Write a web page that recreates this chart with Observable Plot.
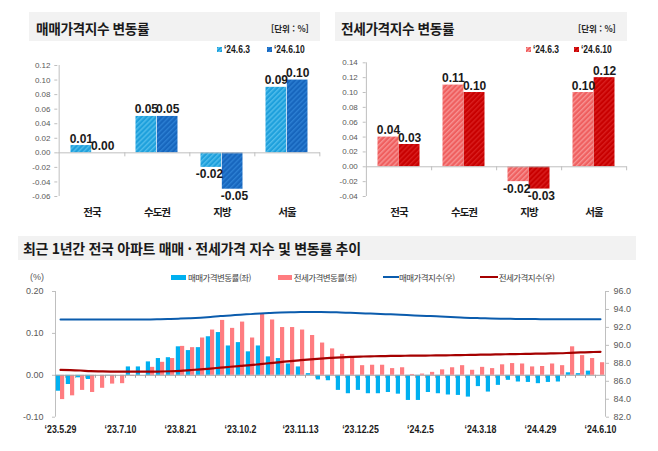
<!DOCTYPE html>
<html lang="ko">
<head>
<meta charset="utf-8">
<title>아파트 매매·전세가격 변동률</title>
<script src="https://cdn.jsdelivr.net/npm/d3@7"></script>
<script src="https://cdn.jsdelivr.net/npm/@observablehq/plot@0.6"></script>
<style>
  html, body { margin: 0; padding: 0; background: #fff; }
  #page { position: relative; width: 658px; height: 451px; overflow: hidden; background: #fff;
          font-family: "Noto Sans CJK KR", "Noto Sans", sans-serif; color: #262626; }
  #page > * { position: absolute; }
  .band { background: #f2f2f2; }
  .title { font-weight: 700; font-size: 13.7px; line-height: 16px; letter-spacing: -0.4px; white-space: nowrap; color: #1a1a1a; }
  .title.wide { font-size: 14px; letter-spacing: -0.3px; }
  .unit { font-weight: 700; font-size: 8.5px; line-height: 10px; white-space: nowrap; color: #262626; }
  .key { font-family: "Liberation Sans", Arial, sans-serif; font-weight: 700; font-size: 10px; line-height: 10px;
         white-space: nowrap; color: #1a1a1a; transform: scaleX(0.85); transform-origin: left center; }
  .sw { width: 5px; height: 5px; }
  .lg { font-size: 8.5px; line-height: 10px; letter-spacing: -0.55px; color: #404040; white-space: nowrap; }
  .pct { font-family: "Liberation Sans", Arial, sans-serif; font-size: 9px; line-height: 10px; color: #595959; }
  .region g[aria-label="x-axis tick label"] text { letter-spacing: -1px; }
</style>
</head>
<body>
<div id="page"></div>
<script>
// ---- weekly change by region (%) ----
const regions = ["전국", "수도권", "지방", "서울"];
const periods = ["‘24.6.3", "‘24.6.10"];
const saleChangePrev     = [0.01, 0.05, -0.02, 0.09];
const saleChangeLatest   = [0.00, 0.05, -0.05, 0.10];
const jeonseChangePrev   = [0.04, 0.11, -0.02, 0.10];
const jeonseChangeLatest = [0.03, 0.10, -0.03, 0.12];
const saleTicks   = [-0.06, -0.04, -0.02, 0, 0.02, 0.04, 0.06, 0.08, 0.10, 0.12];
const jeonseTicks = [-0.04, -0.02, 0, 0.02, 0.04, 0.06, 0.08, 0.10, 0.12, 0.14];

// ---- national apartments, last 12 months (weekly) ----
const weeks = [
  "23.5.29", "23.6.5", "23.6.12", "23.6.19", "23.6.26", "23.7.3", "23.7.10", "23.7.17", "23.7.24", "23.7.31",
  "23.8.7", "23.8.14", "23.8.21", "23.8.28", "23.9.4", "23.9.11", "23.9.18", "23.9.25", "23.10.2", "23.10.9",
  "23.10.16", "23.10.23", "23.10.30", "23.11.6", "23.11.13", "23.11.20", "23.11.27", "23.12.4", "23.12.11", "23.12.18",
  "23.12.25", "24.1.1", "24.1.8", "24.1.15", "24.1.22", "24.1.29", "24.2.5", "24.2.12", "24.2.19", "24.2.26",
  "24.3.4", "24.3.11", "24.3.18", "24.3.25", "24.4.1", "24.4.8", "24.4.15", "24.4.22", "24.4.29", "24.5.6",
  "24.5.13", "24.5.20", "24.5.27", "24.6.3", "24.6.10"
];
const weekTicks = ["23.5.29", "23.7.10", "23.8.21", "23.10.2", "23.11.13", "23.12.25", "24.2.5", "24.3.18", "24.4.29", "24.6.10"];
const saleWeekly = [
  -0.038, -0.022, -0.006, -0.010, 0.000, -0.001, 0.000, 0.020, 0.020, 0.032,
  0.040, 0.042, 0.068, 0.059, 0.066, 0.092, 0.102, 0.070, 0.078, 0.056,
  0.070, 0.044, 0.040, 0.027, 0.020, 0.004, -0.011, -0.013, -0.036, -0.044,
  -0.036, -0.044, -0.044, -0.041, -0.045, -0.060, -0.060, -0.041, -0.044, -0.047,
  -0.048, -0.052, -0.027, -0.040, -0.024, -0.012, -0.016, -0.017, -0.020, -0.017,
  -0.016, 0.006, 0.004, 0.010, 0.000
];
const jeonseWeekly = [
  -0.058, -0.049, -0.036, -0.041, -0.031, -0.021, -0.020, -0.002, 0.000, 0.019,
  0.031, 0.040, 0.069, 0.066, 0.089, 0.108, 0.131, 0.112, 0.127, 0.089,
  0.147, 0.132, 0.114, 0.114, 0.108, 0.095, 0.077, 0.063, 0.050, 0.043,
  0.023, 0.024, 0.024, 0.016, 0.018, 0.002, 0.003, 0.007, 0.013, 0.018,
  0.023, 0.012, 0.019, 0.016, 0.025, 0.028, 0.027, 0.020, 0.021, 0.027,
  0.023, 0.068, 0.047, 0.040, 0.030
];
const saleIndex = [
  92.88, 92.88, 92.88, 92.88, 92.88, 92.88, 92.88, 92.88, 92.88, 92.89,
  92.91, 92.94, 92.98, 93.03, 93.09, 93.17, 93.27, 93.34, 93.42, 93.48,
  93.55, 93.60, 93.65, 93.68, 93.71, 93.72, 93.72, 93.70, 93.66, 93.62,
  93.58, 93.54, 93.50, 93.46, 93.42, 93.36, 93.30, 93.26, 93.21, 93.16,
  93.11, 93.06, 93.03, 92.99, 92.97, 92.96, 92.94, 92.93, 92.92, 92.91,
  92.90, 92.90, 92.90, 92.91, 92.91
];
const jeonseIndex = [
  87.27, 87.25, 87.20, 87.13, 87.10, 87.08, 87.08, 87.08, 87.08, 87.08,
  87.09, 87.12, 87.17, 87.25, 87.33, 87.42, 87.52, 87.62, 87.71, 87.80,
  87.92, 88.03, 88.14, 88.25, 88.35, 88.45, 88.53, 88.60, 88.66, 88.71,
  88.75, 88.78, 88.80, 88.82, 88.84, 88.85, 88.86, 88.87, 88.88, 88.90,
  88.92, 88.94, 88.96, 88.98, 89.00, 89.02, 89.04, 89.06, 89.08, 89.10,
  89.12, 89.17, 89.21, 89.25, 89.28
];
const pctTicks = [-0.10, 0.00, 0.10, 0.20];
const indexTicks = [82, 84, 86, 88, 90, 92, 94, 96];

// ---- shared styles ----
const GRID = "#bfbfbf";
const TICK_TEXT = "#595959";
const NUM_FONT = '"Liberation Sans", Arial, sans-serif';
const AXIS_FONT = '"Liberation Sans", Arial, sans-serif';
const KR_FONT = '"Noto Sans CJK KR", "Noto Sans", sans-serif';
const SALE_BAR = "#00b0f0", JEONSE_BAR = "#ff7c80";
const SALE_LINE = "#0b5cad", JEONSE_LINE = "#a50000";
const PLOT_STYLE = "background: transparent; overflow: visible; max-width: none;";

const page = document.getElementById("page");
function addDiv(cls, x, y, text, css = {}) {
  const el = document.createElement("div");
  el.className = cls;
  el.style.left = x + "px";
  el.style.top = y + "px";
  if (text != null) el.textContent = text;
  Object.assign(el.style, css);
  page.appendChild(el);
  return el;
}
function addPlot(svg, x, y, cls) {
  svg.style.position = "absolute";
  svg.style.left = x + "px";
  svg.style.top = y + "px";
  if (cls) svg.classList.add(cls);
  page.appendChild(svg);
}
function addPattern(svg, id, base, stripe) {
  d3.select(svg).insert("defs", ":first-child").html(
    `<pattern id="${id}" patternUnits="userSpaceOnUse" width="3.6" height="3.6" patternTransform="rotate(45)">` +
    `<rect width="3.6" height="3.6" fill="${base}"/><rect width="1.4" height="3.6" fill="${stripe}"/></pattern>`);
}
// condensed figures: squeeze each label to a fraction of its natural width (svg must be in the page)
function condense(svg, label, k) {
  d3.select(svg).selectAll(`g[aria-label="${label}"] text`).each(function() {
    const w = this.getComputedTextLength();
    if (w > 0) {
      this.setAttribute("textLength", (w * k).toFixed(2));
      this.setAttribute("lengthAdjust", "spacingAndGlyphs");
    }
  });
}
const hatchCss = (base, stripe) => ({background: `repeating-linear-gradient(135deg, ${base} 0 1.4px, ${stripe} 1.4px 2.6px)`});

// ---- header bands ----
addDiv("band", 29, 12, null, {width: "291px", height: "29px"});
addDiv("band", 335, 12, null, {width: "292px", height: "29px"});
addDiv("band", 18, 236, null, {width: "618px", height: "24px"});
addDiv("title", 36, 19.5, "매매가격지수 변동률");
addDiv("title", 341, 19.5, "전세가격지수 변동률");
addDiv("unit", 271, 23.3, "[단위 : %]");
addDiv("unit", 578, 23.3, "[단위 : %]");
addDiv("title wide", 23, 240, "최근 1년간 전국 아파트 매매 · 전세가격 지수 및 변동률 추이");

// ---- grouped bar panel per index ----
function regionChart(cfg) {
  const W = 329, H = 225;
  const rows = regions.flatMap((r, i) => [
    {region: r, period: periods[0], value: cfg.prev[i]},
    {region: r, period: periods[1], value: cfg.latest[i]}
  ]);
  const half = (W - cfg.ml - cfg.mr) / regions.length / 2;
  const outer = 11.5;
  const barShift = (half - outer) / 2;
  const numStyle = {fontFamily: NUM_FONT, fontSize: 12, fontWeight: 700, fill: "#1a1a1a"};
  const labels = periods.flatMap((p, k) => {
    const data = rows.filter(d => d.period === p);
    const side = k === 0 ? -1 : 1;
    return [
      Plot.text(data.filter(d => d.value >= 0), {x: "region", y: "value", text: d => d.value.toFixed(2),
        dx: side * barShift, dy: -3, lineAnchor: "bottom", ariaLabel: "bar value", ...numStyle}),
      Plot.text(data.filter(d => d.value < 0), {x: "region", y: "value", text: d => d.value.toFixed(2),
        dx: side * (barShift + 1.8), dy: 2.5, lineAnchor: "top", ariaLabel: "negative bar value", ...numStyle})
    ];
  });
  const svg = Plot.plot({
    width: W, height: H,
    marginLeft: cfg.ml, marginRight: cfg.mr, marginTop: cfg.mt, marginBottom: cfg.mb,
    style: PLOT_STYLE,
    x: {domain: regions, padding: 0, axis: null},
    y: {domain: cfg.domain, axis: null},
    marks: [
      Plot.ruleX([regions[0]], {dx: -half, stroke: GRID}),
      Plot.axisY({ticks: cfg.ticks, label: null, tickSize: 3, tickPadding: cfg.tickPadding, tickFormat: d => d.toFixed(2),
                  stroke: GRID, fill: TICK_TEXT, fontSize: 8, fontFamily: AXIS_FONT}),
      Plot.barY(rows.filter(d => d.period === periods[0]), {x: "region", y: "value", fill: `url(#${cfg.id}-a)`, insetLeft: outer, insetRight: half}),
      Plot.barY(rows.filter(d => d.period === periods[1]), {x: "region", y: "value", fill: `url(#${cfg.id}-b)`, insetLeft: half, insetRight: outer}),
      Plot.ruleY([0], {stroke: GRID}),
      Plot.ruleX(regions, {x: d => d, y1: 0, y2: 0, dx: half, insetBottom: -4, stroke: GRID}),
      Plot.axisX({label: null, tickSize: 0, tickPadding: 12, fontSize: 10.5, fontWeight: 700, fontFamily: KR_FONT, fill: "#1a1a1a"}),
      ...labels
    ]
  });
  addPattern(svg, `${cfg.id}-a`, cfg.colors[0][0], cfg.colors[0][1]);
  addPattern(svg, `${cfg.id}-b`, cfg.colors[1][0], cfg.colors[1][1]);
  addPlot(svg, cfg.left, 0, "region");
  condense(svg, "bar value", 0.74);
  condense(svg, "negative bar value", 0.69);

  // period key
  cfg.keys.forEach((x, k) => {
    addDiv("sw", x, 47, null, hatchCss(cfg.colors[k][0], cfg.colors[k][1]));
    addDiv("key", x + 7, 44.5, periods[k]);
  });
}

regionChart({
  id: "sale", left: 0, prev: saleChangePrev, latest: saleChangeLatest,
  domain: [-0.06, 0.12], ticks: saleTicks, tickPadding: 4.3,
  ml: 57.3, mr: 9, mt: 65, mb: 29,
  colors: [["#1ea0dc", "#52bdeb"], ["#1766bd", "#2c7fd3"]],
  keys: [217, 267]
});
regionChart({
  id: "jeonse", left: 329, prev: jeonseChangePrev, latest: jeonseChangeLatest,
  domain: [-0.04, 0.14], ticks: jeonseTicks, tickPadding: 5.4,
  ml: 36.7, mr: 31.3, mt: 62.3, mb: 29,
  colors: [["#ef5f5f", "#f79292"], ["#c80000", "#d81e1e"]],
  keys: [525.7, 574]
});

// ---- weekly trend: change bars (left axis) + index lines (right axis) ----
const weekly = weeks.map((w, i) => ({
  week: w, sale: saleWeekly[i], jeonse: jeonseWeekly[i], saleIdx: saleIndex[i], jeonseIdx: jeonseIndex[i]
}));
const BW = 658, BH = 160, BTOP = 280;
const bm = {marginLeft: 55, marginRight: 53, marginTop: 11, marginBottom: 23.3};
const step = (BW - bm.marginLeft - bm.marginRight) / weeks.length;
const barGap = 0.8;

const barsSvg = Plot.plot({
  width: BW, height: BH, ...bm, style: PLOT_STYLE,
  x: {domain: weeks, padding: 0, axis: null},
  y: {domain: [-0.10, 0.20], axis: null},
  marks: [
    Plot.ruleX([weeks[0]], {dx: -step / 2, stroke: GRID}),
    Plot.axisY({ticks: pctTicks, label: null, tickSize: 3, tickPadding: 9, tickFormat: d => d.toFixed(2),
                stroke: GRID, fill: TICK_TEXT, fontSize: 9, fontFamily: AXIS_FONT}),
    Plot.barY(weekly, {x: "week", y: "sale", fill: SALE_BAR, insetLeft: barGap, insetRight: step / 2}),
    Plot.barY(weekly, {x: "week", y: "jeonse", fill: JEONSE_BAR, insetLeft: step / 2, insetRight: barGap}),
    Plot.ruleY([0], {stroke: "#a6a6a6"}),
    Plot.ruleX(weeks, {x: d => d, y1: 0, y2: 0, dx: step / 2, insetBottom: -3, stroke: "#a6a6a6"}),
    Plot.axisX({ticks: weekTicks, label: null, tickSize: 0, tickPadding: 9, tickFormat: d => "‘" + d,
                fontSize: 10, fontWeight: 700, fontFamily: NUM_FONT, fill: "#1a1a1a"})
  ]
});
addPlot(barsSvg, 0, BTOP);
condense(barsSvg, "x-axis tick label", 0.88);

const linesSvg = Plot.plot({
  width: BW, height: BH, ...bm, style: PLOT_STYLE,
  x: {type: "point", domain: weeks, padding: 0.5, axis: null},
  y: {domain: [82, 96], axis: null},
  marks: [
    Plot.ruleX([weeks[weeks.length - 1]], {dx: step / 2, stroke: GRID}),
    Plot.axisY({anchor: "right", ticks: indexTicks, label: null, tickSize: 3, tickPadding: 5, tickFormat: d => d.toFixed(1),
                stroke: GRID, fill: TICK_TEXT, fontSize: 9, fontFamily: AXIS_FONT}),
    Plot.lineY(weekly, {x: "week", y: "saleIdx", stroke: SALE_LINE, strokeWidth: 2, curve: "monotone-x"}),
    Plot.lineY(weekly, {x: "week", y: "jeonseIdx", stroke: JEONSE_LINE, strokeWidth: 2.2, curve: "monotone-x"})
  ]
});
addPlot(linesSvg, 0, BTOP);

// ---- legend ----
addDiv("pct", 30, 272, "(%)");
addDiv("", 171, 275, null, {width: "15px", height: "5px", background: SALE_BAR});
addDiv("lg", 188, 272.3, "매매가격변동률(좌)");
addDiv("", 277.5, 275, null, {width: "14px", height: "5px", background: JEONSE_BAR});
addDiv("lg", 293.7, 272.3, "전세가격변동률(좌)");
addDiv("", 383, 276.3, null, {width: "15.5px", height: "2px", background: SALE_LINE});
addDiv("lg", 399, 272.3, "매매가격지수(우)");
addDiv("", 480, 276.3, null, {width: "18px", height: "2px", background: JEONSE_LINE});
addDiv("lg", 498.7, 272.3, "전세가격지수(우)");
</script>
</body>
</html>
